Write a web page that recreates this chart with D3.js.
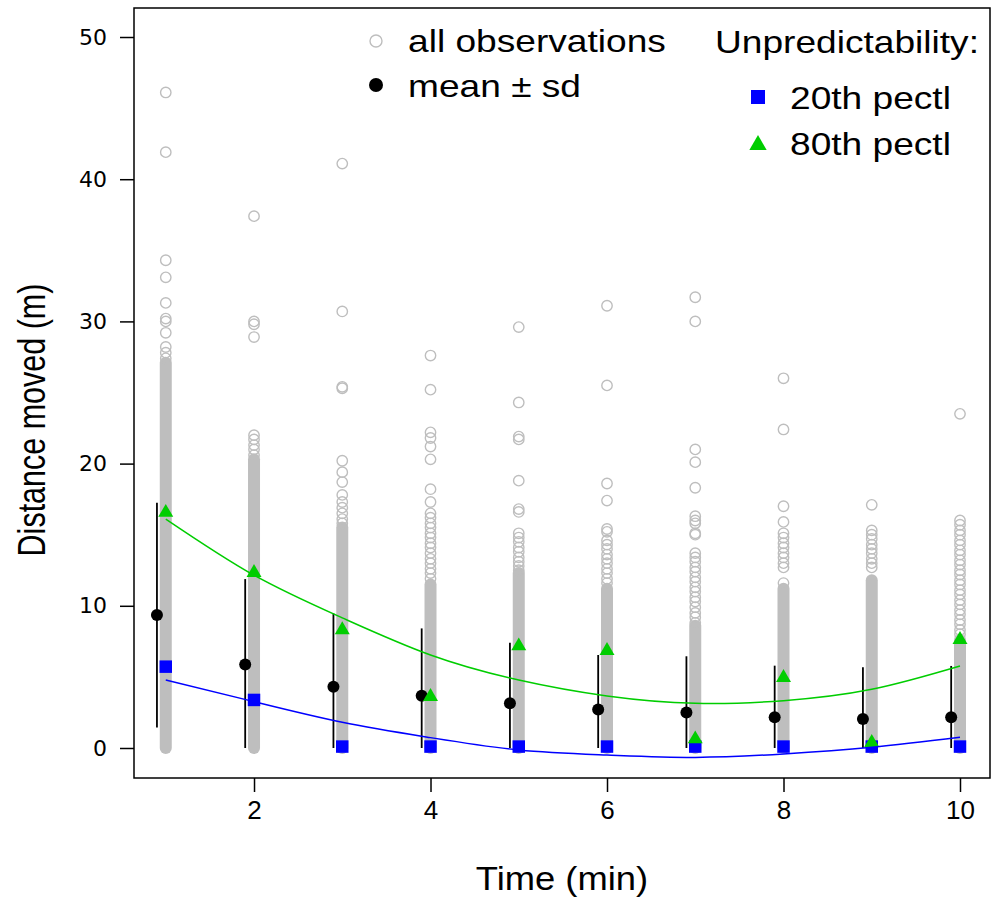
<!DOCTYPE html>
<html>
<head>
<meta charset="utf-8">
<script src="https://cdn.jsdelivr.net/npm/d3@7"></script>
<style>
  body { margin: 0; background: #fff; }
  text { font-family: "Liberation Sans", Arial, sans-serif; fill: #000; }
</style>
</head>
<body>
<script>
// data
var minutes = [1, 2, 3, 4, 5, 6, 7, 8, 9, 10];
var meanDist = [9.35, 5.88, 4.31, 3.68, 3.14, 2.70, 2.49, 2.16, 2.04, 2.16];
var sdDist = [7.90, 6.00, 5.16, 4.73, 4.26, 3.84, 3.96, 3.63, 3.63, 3.61];
var pctl20 = [5.72, 3.38, 0.10, 0.10, 0.10, 0.10, 0.10, 0.10, 0.10, 0.10];
var pctl80 = [16.56, 12.33, 8.30, 3.61, 7.17, 6.84, 0.63, 4.95, 0.38, 7.62];
var fit20 = [4.78, 3.26, 1.81, 0.73, -0.14, -0.49, -0.66, -0.42, 0.05, 0.75];
var fit80 = [16.10, 12.15, 9.15, 6.54, 4.78, 3.66, 3.14, 3.33, 4.13, 5.77];
// observations: dense band from 0 up to denseTop, plus the single points above it
var denseTop = [27.1, 20.3, 15.5, 11.5, 12.3, 11.2, 8.6, 11.2, 11.8, 7.6];
var obsSingles = [
  [46.1, 41.9, 34.3, 33.1, 31.3, 30.2, 30.0, 29.2, 28.2, 27.8, 27.4],
  [37.4, 30.0, 29.8, 28.9, 22.0, 21.7, 21.3, 21.0, 20.6],
  [41.1, 30.7, 25.4, 25.3, 20.2, 19.4, 18.7, 17.8, 17.3, 16.9, 16.5, 16.1, 15.8],
  [27.6, 25.2, 22.2, 21.8, 21.2, 20.3, 18.2, 17.3, 16.5, 16.2, 15.8, 15.5, 15.1, 14.8, 14.4, 14.1, 13.7, 13.3, 13.0, 12.6, 12.3, 11.9],
  [29.6, 24.3, 21.9, 21.7, 18.8, 16.8, 16.6, 15.1, 14.8, 14.5, 14.1, 13.8, 13.4, 13.1, 12.8, 12.5],
  [31.1, 25.5, 18.6, 17.4, 15.4, 15.2, 14.6, 14.3, 14.0, 13.6, 13.3, 13.0, 12.6, 12.3, 11.9, 11.6],
  [31.7, 30.0, 21.0, 20.1, 18.3, 16.3, 16.0, 15.8, 15.1, 15.0, 13.7, 13.4, 13.1, 12.7, 12.4, 12.0, 11.7, 11.3, 11.0, 10.6, 10.3, 9.9, 9.5, 9.2, 8.8],
  [26.0, 22.4, 17.0, 15.9, 15.1, 14.8, 14.4, 14.1, 13.7, 13.4, 13.0, 12.7, 11.6],
  [17.1, 15.3, 15.0, 14.7, 14.3, 14.0, 13.7, 13.3, 13.0, 12.7],
  [23.5, 16.0, 15.7, 15.3, 15.0, 14.6, 14.3, 13.9, 13.6, 13.2, 12.9, 12.5, 12.2, 11.8, 11.5, 11.1, 10.8, 10.4, 10.1, 9.7, 9.4, 9.0, 8.7, 8.3, 8.0]
];
var yTicks = [0, 10, 20, 30, 40, 50];
var xTicks = [2, 4, 6, 8, 10];

var width = 992, height = 907;
var margin = {top: 8, right: 2, bottom: 129, left: 134};
var grey = "#bebebe", blue = "#0000ff", green = "#00cd00";

var svg = d3.select("body").append("svg")
    .attr("width", width)
    .attr("height", height);

var x = d3.scaleLinear().domain([0.64, 10.34]).range([margin.left, width - margin.right]);
var y = d3.scaleLinear().domain([-2.11, 52.04]).range([height - margin.bottom, margin.top]);

var plot = svg.append("g");

// dense part of each column
plot.append("g").selectAll("line")
    .data(minutes)
  .enter().append("line")
    .attr("x1", function(d) { return x(d); })
    .attr("x2", function(d) { return x(d); })
    .attr("y1", y(0))
    .attr("y2", function(d, i) { return y(denseTop[i]); })
    .attr("stroke", grey)
    .attr("stroke-width", 12)
    .attr("stroke-linecap", "round");

// single observations
var singles = [];
minutes.forEach(function(m, i) {
  obsSingles[i].forEach(function(v) { singles.push({t: m, v: v}); });
});
plot.append("g").selectAll("circle")
    .data(singles)
  .enter().append("circle")
    .attr("cx", function(d) { return x(d.t); })
    .attr("cy", function(d) { return y(d.v); })
    .attr("r", 5.2)
    .attr("fill", "none")
    .attr("stroke", grey)
    .attr("stroke-width", 1.4);

// mean +- sd, offset a little to the left
plot.append("g").selectAll("line")
    .data(minutes)
  .enter().append("line")
    .attr("x1", function(d) { return x(d - 0.1); })
    .attr("x2", function(d) { return x(d - 0.1); })
    .attr("y1", function(d, i) { return y(Math.max(0, meanDist[i] - sdDist[i])); })
    .attr("y2", function(d, i) { return y(meanDist[i] + sdDist[i]); })
    .attr("stroke", "#000")
    .attr("stroke-width", 1.8);

plot.append("g").selectAll("circle")
    .data(minutes)
  .enter().append("circle")
    .attr("cx", function(d) { return x(d - 0.1); })
    .attr("cy", function(d, i) { return y(meanDist[i]); })
    .attr("r", 6)
    .attr("fill", "#000");

// percentile points
var square = d3.symbol().type(d3.symbolSquare).size(156);
var triangle = d3.symbol().type(d3.symbolTriangle).size(97);

plot.append("g").selectAll("path")
    .data(minutes)
  .enter().append("path")
    .attr("d", square)
    .attr("transform", function(d, i) { return "translate(" + x(d) + "," + y(pctl20[i]) + ")"; })
    .attr("fill", blue);

plot.append("g").selectAll("path")
    .data(minutes)
  .enter().append("path")
    .attr("d", triangle)
    .attr("transform", function(d, i) { return "translate(" + x(d) + "," + y(pctl80[i]) + ")"; })
    .attr("fill", green);

// fitted curves
var line = function(vals) {
  return d3.line()
      .x(function(d) { return x(d); })
      .y(function(d, i) { return y(vals[i]); })
      .curve(d3.curveNatural)(minutes);
};
plot.append("path")
    .attr("d", line(fit80))
    .attr("fill", "none")
    .attr("stroke", green)
    .attr("stroke-width", 1.5);
plot.append("path")
    .attr("d", line(fit20))
    .attr("fill", "none")
    .attr("stroke", blue)
    .attr("stroke-width", 1.5);

// frame
svg.append("rect")
    .attr("x", margin.left)
    .attr("y", margin.top)
    .attr("width", width - margin.left - margin.right)
    .attr("height", height - margin.top - margin.bottom)
    .attr("fill", "none")
    .attr("stroke", "#000")
    .attr("stroke-width", 1.5);

// axes
var yAxis = svg.append("g")
    .attr("transform", "translate(" + margin.left + ",0)")
    .call(d3.axisLeft(y).tickValues(yTicks).tickSize(14).tickPadding(13));
yAxis.select(".domain").remove();
yAxis.selectAll("line").attr("stroke-width", 1.5);
yAxis.selectAll("text")
    .style("font-family", "'DejaVu Sans', sans-serif")
    .style("font-size", "22px");

var xAxis = svg.append("g")
    .attr("transform", "translate(0," + (height - margin.bottom) + ")")
    .call(d3.axisBottom(x).tickValues(xTicks).tickSize(14).tickPadding(9));
xAxis.select(".domain").remove();
xAxis.selectAll("line").attr("stroke-width", 1.5);
xAxis.selectAll("text")
    .style("font-family", "'Liberation Sans', Arial, sans-serif")
    .style("font-size", "26px");

// axis titles (the source image is slightly stretched sideways)
svg.append("text")
    .attr("transform", "translate(562,890) scale(1.07,1)")
    .attr("text-anchor", "middle")
    .style("font-size", "34px")
    .text("Time (min)");

svg.append("text")
    .attr("transform", "translate(45,420) scale(1.25,1) rotate(-90)")
    .attr("text-anchor", "middle")
    .style("font-size", "30.5px")
    .text("Distance moved (m)");

// legend
var legend = svg.append("g");
function legendText(tx, ty, label) {
  legend.append("text")
      .attr("transform", "translate(" + tx + "," + ty + ") scale(1.16,1)")
      .style("font-size", "32px")
      .text(label);
}
legend.append("circle")
    .attr("cx", 376).attr("cy", 41).attr("r", 6)
    .attr("fill", "none").attr("stroke", grey).attr("stroke-width", 1.4);
legendText(408, 52, "all observations");
legend.append("circle")
    .attr("cx", 376).attr("cy", 85).attr("r", 7)
    .attr("fill", "#000");
legendText(408, 97, "mean \u00b1 sd");
legendText(715, 53, "Unpredictability:");
legend.append("path")
    .attr("d", d3.symbol().type(d3.symbolSquare).size(196))
    .attr("transform", "translate(758,97)")
    .attr("fill", blue);
legendText(790, 109, "20th pectl");
legend.append("path")
    .attr("d", d3.symbol().type(d3.symbolTriangle).size(130))
    .attr("transform", "translate(758,145)")
    .attr("fill", green);
legendText(790, 155, "80th pectl");
</script>
</body>
</html>
